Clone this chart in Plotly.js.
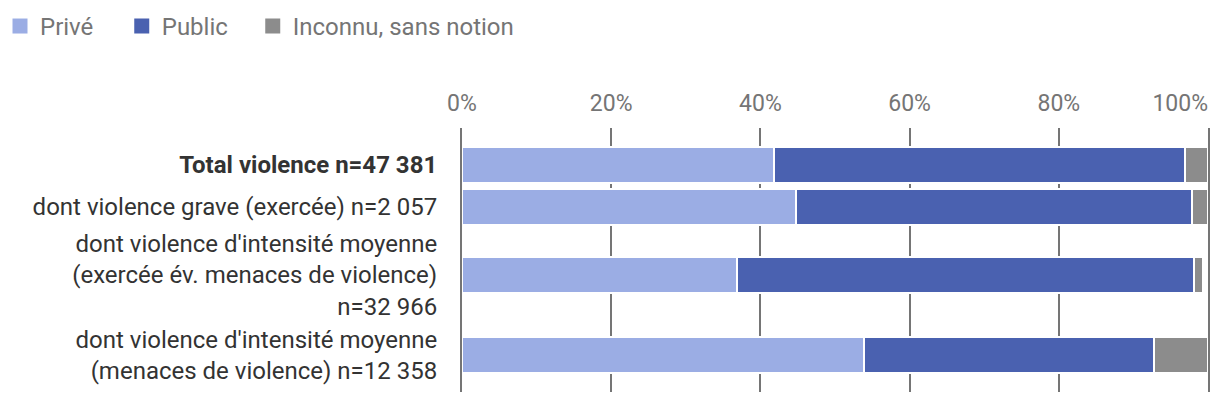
<!DOCTYPE html>
<html>
<head>
<meta charset="utf-8">
<script src="https://cdn.plot.ly/plotly-3.0.1.min.js"></script>
<style>html,body{margin:0;padding:0;background:#fff;}#chart{width:1220px;height:416px;}</style>
</head>
<body>
<div id="chart"></div>
<script>
// ---- data ----
const categories = [
  "<b>Total violence n=47 381</b>",
  "dont violence grave (exercée) n=2 057",
  "dont violence d'intensité moyenne<br>(exercée év. menaces de violence)<br>n=32 966",
  "dont violence d'intensité moyenne<br>(menaces de violence) n=12 358"
];
const seriesNames = ["Privé", "Public", "Inconnu, sans notion"];
const prive   = [41.8, 44.8, 36.8, 53.9];
const publicV = [55.1, 53.1, 61.3, 38.9];
const inconnu = [3.1, 2.1, 1.2, 7.2];
const xTickVals = [0, 20, 40, 60, 80, 100];
const xTickText = ["0%", "20%", "40%", "60%", "80%", "100%"];

// ---- layout helpers: row slots sized by number of label lines ----
const lineCount = categories.map(c => c.split("<br>").length);
const slots = lineCount.map(n => Math.max(42, 28 * n + 10));
const rowPos = [];
let acc = 0;
slots.forEach(s => { rowPos.push(acc + s / 2); acc += s; });

const colors = ["#9bade4", "#4a61b0", "#8c8c8c"];
const values = [prive, publicV, inconnu];
const legendIds = ["legend", "legend2", "legend3"];
const legendX = [-0.6193, -0.4561, -0.2805];

const traces = values.map((v, i) => ({
  type: "bar",
  orientation: "h",
  name: seriesNames[i],
  x: v,
  y: rowPos,
  width: 36,
  marker: { color: colors[i], line: { color: "#ffffff", width: 2 } },
  showlegend: false,
  hoverinfo: "skip"
}));
// legend entries (square swatches); they live on the overlay axis so it is drawn
seriesNames.forEach((n, i) => traces.push({
  type: "scatter",
  mode: "markers",
  name: n,
  x: [null],
  y: [null],
  xaxis: "x2",
  yaxis: "y",
  legend: legendIds[i],
  marker: { symbol: "square", size: 15, color: colors[i] },
  showlegend: true,
  hoverinfo: "skip"
}));

const tickFont = { family: "Roboto, sans-serif", size: 23, color: "#757575" };

const layout = {
  width: 1220,
  height: 416,
  margin: { l: 462, r: 12, t: 128, b: 24, pad: 0, autoexpand: false },
  paper_bgcolor: "#ffffff",
  plot_bgcolor: "#ffffff",
  barmode: "stack",
  font: { family: "Roboto, 'Noto Sans', sans-serif", size: 24, color: "#333333" },
  showlegend: true,
  xaxis: {
    side: "top",
    range: [0, 100],
    tickvals: xTickVals.slice(0, -1),
    ticktext: xTickText.slice(0, -1),
    showgrid: true,
    gridcolor: "#757575",
    gridwidth: 2,
    zeroline: false,
    showline: false,
    ticks: "outside",
    ticklen: 7,
    tickcolor: "rgba(0,0,0,0)",
    tickfont: tickFont,
    fixedrange: true
  },
  xaxis2: {
    overlaying: "x",
    anchor: "y",
    side: "top",
    range: [0, 100],
    autorange: false,
    tickvals: xTickVals.slice(-1),
    ticktext: xTickText.slice(-1),
    ticklabelposition: "outside left",
    ticklabelstandoff: 11,
    showgrid: false,
    zeroline: false,
    showline: false,
    ticks: "",
    ticklen: 0,
    tickfont: tickFont,
    fixedrange: true
  },
  yaxis: {
    range: [acc + 4, -16],
    autorange: false,
    tickvals: rowPos,
    ticktext: categories,
    showgrid: false,
    zeroline: false,
    showline: true,
    mirror: true,
    linecolor: "#757575",
    linewidth: 2,
    ticks: "outside",
    ticklen: 18,
    tickcolor: "rgba(0,0,0,0)",
    tickfont: { family: "Roboto, sans-serif", size: 24, color: "#333333" },
    fixedrange: true
  }
};
legendIds.forEach((id, i) => {
  layout[id] = {
    orientation: "h",
    x: legendX[i],
    xanchor: "left",
    y: 1.47,
    yanchor: "top",
    font: { family: "Roboto, sans-serif", size: 24, color: "#757575" },
    itemsizing: "trace",
    itemclick: false,
    bgcolor: "rgba(0,0,0,0)"
  };
});

Plotly.newPlot("chart", traces, layout, { displayModeBar: false, staticPlot: true });
</script>
</body>
</html>
